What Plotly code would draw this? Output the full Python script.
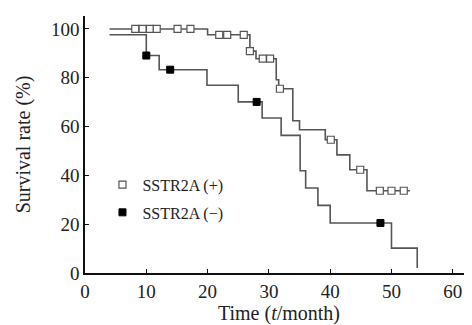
import plotly.graph_objects as go

# Kaplan-Meier step data (time in months, survival %)
pos_t = [4, 20, 26.9, 27.9, 31.2, 31.6, 33.9, 35.0, 39.2, 41.1, 43.2, 46.0, 53.0]
pos_s = [100, 97.6, 90.9, 87.8, 79.2, 75.5, 62.4, 58.7, 54.6, 48.4, 42.3, 33.7, 33.7]

neg_t = [4, 10.0, 12.1, 19.9, 25.0, 28.9, 32.0, 35.1, 36.0, 38.0, 40.0, 50.0, 54.2]
neg_s = [97.6, 89.1, 83.3, 76.9, 70.1, 63.5, 56.4, 41.9, 34.8, 27.7, 20.5, 10.2, 2.0]

# censored observations
pos_cens_t = [8.2, 9.4, 10.6, 11.7, 15.1, 17.2, 21.9, 23.2, 25.9, 26.9, 29.0, 30.2,
              31.8, 40.1, 44.9, 48.1, 50.0, 52.0]
pos_cens_s = [100, 100, 100, 100, 100, 100, 97.6, 97.6, 97.6, 90.9, 87.8, 87.8,
              75.5, 54.6, 42.3, 33.7, 33.7, 33.7]

neg_cens_t = [10.0, 13.9, 28.0, 48.2]
neg_cens_s = [89.1, 83.3, 70.1, 20.5]

x_ticks = [0, 10, 20, 30, 40, 50, 60]
y_ticks = [0, 20, 40, 60, 80, 100]

FONT = "Liberation Serif, Times New Roman, serif"
LINE = "#555555"

fig = go.Figure()
fig.add_trace(go.Scatter(x=pos_t, y=pos_s, mode="lines", line=dict(shape="hv", color=LINE, width=1.6),
                         showlegend=False, hoverinfo="skip"))
fig.add_trace(go.Scatter(x=neg_t, y=neg_s, mode="lines", line=dict(shape="hv", color=LINE, width=1.6),
                         showlegend=False, hoverinfo="skip"))
fig.add_trace(go.Scatter(x=pos_cens_t, y=pos_cens_s, mode="markers", name="SSTR2A (+)",
                         legendgroup="a",
                         marker=dict(symbol="square", size=7, color="white",
                                     line=dict(color="#555555", width=1.2))))
fig.add_trace(go.Scatter(x=neg_cens_t, y=neg_cens_s, mode="markers", name="SSTR2A (\u2212)",
                         legendgroup="b",
                         marker=dict(symbol="square", size=7, color="black",
                                     line=dict(color="black", width=1))))

axis_common = dict(showline=True, linecolor="#111111", linewidth=1.5, ticks="inside", ticklen=4,
                   tickcolor="#111111", showgrid=False, zeroline=False,
                   tickfont=dict(family=FONT, size=19, color="#222222"))

fig.update_layout(
    width=472, height=325,
    margin=dict(l=77, r=7, t=8, b=60),
    paper_bgcolor="white", plot_bgcolor="white",
    font=dict(family=FONT, size=19, color="#222222"),
    xaxis=dict(range=[0, 63.3], tickvals=x_ticks, title=dict(text="Time (<i>t</i>/month)",
               font=dict(family=FONT, size=20), standoff=5), **axis_common),
    yaxis=dict(range=[0, 105.3], tickvals=y_ticks, title=dict(text="Survival rate (%)",
               font=dict(family=FONT, size=20), standoff=15), **axis_common),
    legend=dict(x=0.045, y=0.41, xanchor="left", yanchor="top", bgcolor="rgba(0,0,0,0)",
                font=dict(family=FONT, size=16, color="#222222"), tracegroupgap=4,
                itemwidth=30),
)

fig.write_html("out.html")
